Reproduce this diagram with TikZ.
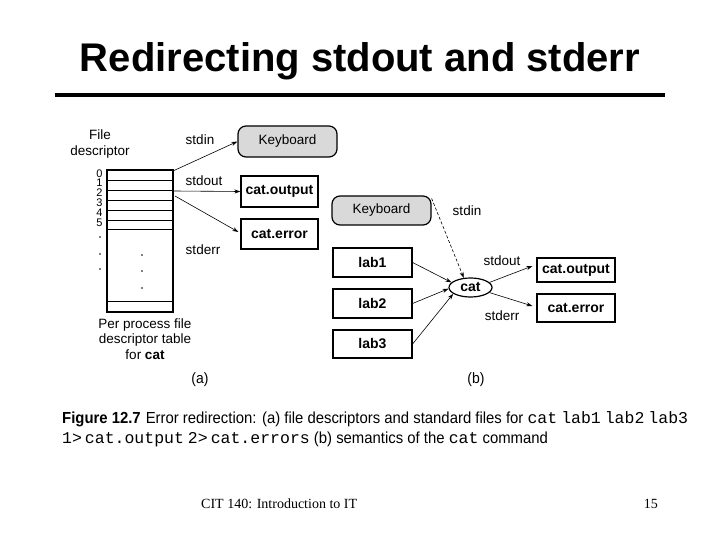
\documentclass[tikz,border=0pt]{standalone}
\usepackage{fontspec}
\setmainfont{Liberation Sans}
\newfontfamily\footfont{Liberation Serif}
\newfontfamily\capfont[FakeStretch=0.93]{Liberation Sans}
\newfontfamily\capmono{Liberation Mono}
\usetikzlibrary{arrows.meta,shapes.geometric}
\begin{document}
\begin{tikzpicture}[x=1pt,y=-1pt,
  lbl/.style={font=\fontsize{13.5}{15.5}\selectfont, inner sep=0pt},
  num/.style={font=\fontsize{11}{11}\selectfont, inner sep=0pt},
  filebox/.style={draw, line width=1.2pt, font=\fontsize{14}{15}\selectfont\bfseries, inner sep=0pt},
  kbd/.style={draw, line width=1.2pt, fill=black!15, rounded corners=8pt, font=\fontsize{13.5}{15}\selectfont, inner sep=0pt, minimum width=99pt},
  arr/.style={-{Stealth[length=6pt,width=4pt]}, line width=0.6pt},
  darr/.style={arr, dash pattern=on 3pt off 2pt},
  caption/.style={font=\capfont\fontsize{16}{18}\selectfont, inner sep=0pt, anchor=base west}]
\useasboundingbox (0,0) rectangle (720,540);
% title
\node[font=\fontsize{40}{44}\selectfont\bfseries, anchor=base, inner sep=0pt] (title) at (360,72) {Redirecting stdout and stderr};
\draw[line width=4pt] (55,95) -- (665,95);
% (a) descriptor table
\node[lbl, align=center] (fd) at (100,144) {File\\descriptor};
\draw[line width=1.3pt] (107,170) rectangle (173,312);
\draw[line width=1.2pt] (107,180.5) -- (173,180.5);
\draw[line width=0.6pt] (107,190.5) -- (173,190.5);
\draw[line width=1.2pt] (107,200.5) -- (173,200.5);
\draw[line width=1.2pt] (107,210.5) -- (173,210.5);
\draw[line width=1.2pt] (107,220.5) -- (173,220.5);
\draw[line width=0.6pt] (107,229.5) -- (173,229.5);
\draw[line width=0.6pt] (107,301.5) -- (173,301.5);
\foreach \n/\y in {0/173.5,1/183,2/192.5,3/202.5,4/212.5,5/222.5}
  \node[num] (n\n) at (99.5,\y) {\n};
\foreach \y in {237,254,269} \fill (100,\y) circle (0.9pt);
\foreach \y in {255,271,288} \fill (142,\y) circle (0.9pt);
\node[lbl, align=center] (per) at (145,339) {Per process file\\descriptor table\\for \textbf{cat}};
\coordinate (r0) at (174,170.5);
\coordinate (r1) at (174,191);
\coordinate (r2) at (175,196);
% (a) files
\node[kbd, minimum height=31pt] (kb1) at (287.5,141.5) {Keyboard};
\node[filebox, minimum width=77pt, minimum height=31pt] (co1) at (279.5,191.5) {cat.output};
\node[filebox, minimum width=77pt, minimum height=30pt] (ce1) at (279.5,234) {cat.error};
\node[lbl] (in1) at (200,140) {stdin};
\node[lbl] (out1) at (204,181) {stdout};
\node[lbl] (err1) at (203,250) {stderr};
\draw[arr] (r0) -- (kb1.west);
\draw[arr] (r1) -- (co1.west);
\draw[arr] (r2) -- ([xshift=-2pt,yshift=2pt]ce1.west);
% (b)
\node[kbd, minimum height=29pt] (kb2) at (381.5,210.5) {Keyboard};
\node[filebox, minimum width=79pt, minimum height=29pt] (l1) at (372.5,262.5) {lab1};
\node[filebox, minimum width=79pt, minimum height=29pt] (l2) at (372.5,303.5) {lab2};
\node[filebox, minimum width=79pt, minimum height=28pt] (l3) at (372.5,344) {lab3};
\node[draw, ellipse, line width=1.2pt, minimum width=43pt, minimum height=19pt, inner sep=0pt, font=\fontsize{14}{15}\selectfont\bfseries] (cat) at (470.5,287.5) {cat};
\node[filebox, minimum width=78pt, minimum height=24pt] (co2) at (576,270) {cat.output};
\node[filebox, minimum width=78pt, minimum height=28pt] (ce2) at (576,308) {cat.error};
\node[lbl] (in2) at (467,211) {stdin};
\node[lbl] (out2) at (502,261) {stdout};
\node[lbl] (err2) at (502,316) {stderr};
\draw[darr] ([yshift=-3pt]kb2.north east) -- (cat.125);
\draw[arr] (l1.east) -- (cat.165);
\draw[arr] (l2.east) -- (cat.183);
\draw[arr] (l3.east) -- (cat.200);
\draw[arr] (cat.15) -- ([xshift=-4pt,yshift=4pt]co2.west);
\draw[arr] (cat.-15) -- ([xshift=-4pt,yshift=2pt]ce2.west);
% sub labels
\node[font=\capfont\fontsize{15}{15}\selectfont, inner sep=0pt] (la) at (200,380) {(a)};
\node[font=\capfont\fontsize{15}{15}\selectfont, inner sep=0pt] (lb) at (476,380) {(b)};
% caption
\node[caption] (cap1) at (62,423) {{\bfseries Figure 12.7}\hspace{5pt}Error redirection: (a) file descriptors and standard files for {\capmono\fontsize{16.5}{18}\selectfont\spaceskip=4pt cat lab1 lab2 lab3}};
\node[caption] (cap2) at (62,443) {{\capmono\fontsize{16.5}{18}\selectfont 1>\hspace{3pt}cat.output\hspace{4pt}2>\hspace{3pt}cat.errors} (b) semantics of the {\capmono\fontsize{16.5}{18}\selectfont cat} command};
% footer
\node[font=\footfont\fontsize{14}{16}\selectfont, anchor=base west, inner sep=0pt] (foot) at (201,508) {CIT 140: Introduction to IT};
\node[font=\footfont\fontsize{14}{16}\selectfont, anchor=base east, inner sep=0pt] (page) at (658,508) {15};
\end{tikzpicture}
\end{document}
